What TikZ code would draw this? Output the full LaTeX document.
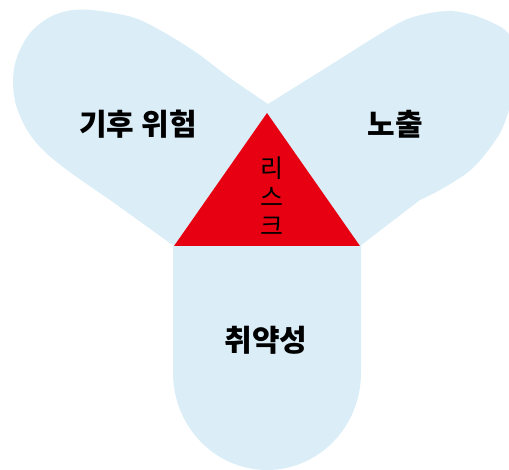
\documentclass[tikz,border=0pt]{standalone}
\usepackage{fontspec}
\newfontfamily\kr{Noto Sans CJK KR}
\definecolor{petal}{RGB}{219,238,248}
\definecolor{riskred}{RGB}{230,0,18}
\begin{document}
\begin{tikzpicture}[x=1pt,y=-1pt,
  lbl/.style={font=\kr\bfseries\fontsize{30}{32}\selectfont,text=black,inner sep=0pt},
  risklbl/.style={font=\kr\fontsize{25}{29}\selectfont,text=black,align=center,inner sep=0pt}]
\useasboundingbox (0,0) rectangle (509,470);
\clip (0,0) rectangle (509,470);
% left petal
\fill[petal] (174,246)
  -- plot[smooth,tension=0.55] coordinates {(110,200) (67,170) (43,150) (27,130) (16,105) (13,80) (17,57) (30,33) (50,17) (73,10) (100,11) (135,18) (165,33) (197,53) (230,78) (268,104)}
  -- (267,200) -- cycle;
% right petal
\fill[petal] (268,104)
  -- plot[smooth,tension=0.55] coordinates {(268,104) (300,84) (340,59) (375,37) (405,20) (430,13) (452,11) (473,15) (493,23) (508,33) (516,55) (516,85) (509,110) (500,133) (483,157) (467,173) (440,190) (420,200)}
  -- (360,246) -- (267,200) -- cycle;
% bottom petal
\fill[petal] (173,246) -- (173,373) arc[start angle=180,end angle=0,x radius=94,y radius=97] -- (361,246) -- cycle;
% centre gap
\fill[petal] (174,246) -- (268,104) -- (361,246) -- cycle;
% triangle
\fill[riskred] (267,113) -- (174,246) -- (360,246) -- cycle;
\node[lbl] (hazard) at (138,124) {기후 위험};
\node[lbl] (exposure) at (395,124) {노출};
\node[lbl] (vuln) at (266,340) {취약성};
\node[risklbl] (risk) at (272,196) {리\\스\\크};
\end{tikzpicture}
\end{document}
